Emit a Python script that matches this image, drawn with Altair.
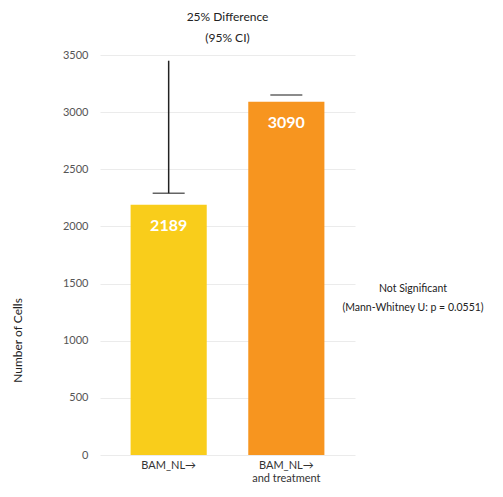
import altair as alt
import pandas as pd

groups = ["BAM_NL→", "BAM_NL→\nand treatment"]
counts = [2189, 3090]
colors = ["#F9CD1B", "#F7951F"]
err_low = [2290, 3150]
err_high = [3450, 3150]

df = pd.DataFrame({"group": groups, "count": counts, "color": colors,
                   "lo": err_low, "hi": err_high,
                   "label": [str(c) for c in counts]})

FONT = "Lato"

x = alt.X("group:N", sort=groups,
          scale=alt.Scale(paddingInner=0.353, paddingOuter=0.26),
          axis=alt.Axis(title=None, labelAngle=0, domain=False, ticks=False,
                        labelExpr="split(datum.label, '\\n')", labelFontSize=11,
                        labelColor="#333", labelFont=FONT, labelPadding=4))
y = alt.Y("count:Q", scale=alt.Scale(domain=[0, 3500]),
          axis=alt.Axis(title="Number of Cells", values=list(range(0, 3501, 500)),
                        format="d",
                        domain=False, ticks=False, gridColor="#ebebeb",
                        labelColor="#555", labelFontSize=11, labelFont=FONT,
                        titleFont=FONT, titleFontWeight="normal", titleFontSize=12,
                        titleColor="#222", labelPadding=12, titleY=285, titlePadding=38))

base = alt.Chart(df)
bars = base.mark_bar().encode(x=x, y=y, color=alt.Color("color:N", scale=None))
rule = base.mark_rule(color="#222", strokeWidth=1.5).encode(x=alt.X("group:N", sort=groups), y="lo:Q", y2="hi:Q")
cap = base.mark_tick(color="#222", thickness=1.5, size=32, orient="horizontal").encode(
    x=alt.X("group:N", sort=groups), y="lo:Q")
labels = base.mark_text(color="white", fontWeight="bold", fontSize=16, font=FONT, dy=21).encode(
    x=alt.X("group:N", sort=groups), y="count:Q", text="label:N")

ann_df = pd.DataFrame({"yv": [1450], "t": [["Not Significant", "(Mann-Whitney U: p = 0.0551)"]]})
ann = alt.Chart(ann_df).mark_text(fontSize=10.5, font=FONT, color="#222", align="center", lineHeight=19).encode(
    x=alt.value(313), y="yv:Q", text="t")

chart = alt.layer(bars, rule, cap, labels, ann).properties(
    width=255, height=400,
    title=alt.TitleParams(["25% Difference", "(95% CI)"], font=FONT, fontSize=12,
                          fontWeight="normal", color="#222", anchor="middle", offset=4,
                          lineHeight=21),
    autosize="none",
    padding={"left": 92, "top": 47, "right": 140, "bottom": 34},
).configure_view(stroke=None)

chart.save("out.html", embed_options={"renderer": "svg", "actions": False})
